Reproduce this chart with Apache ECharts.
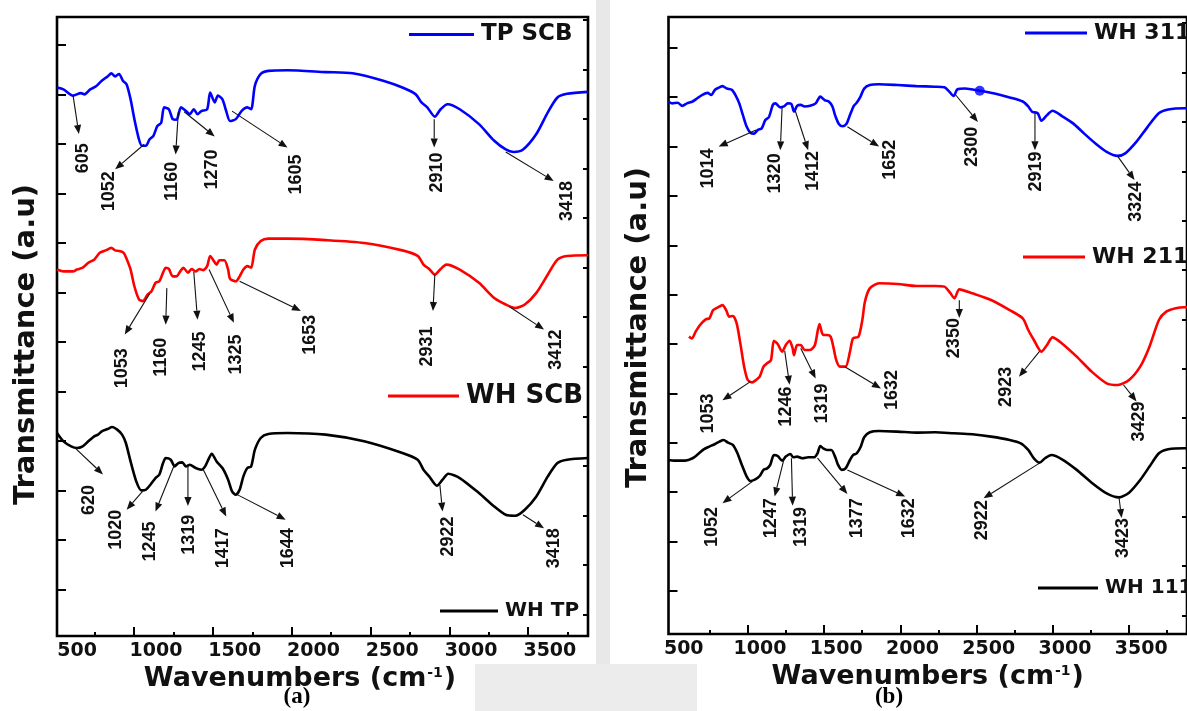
<!DOCTYPE html>
<html>
<head>
<meta charset="utf-8">
<script src="https://cdn.jsdelivr.net/npm/echarts@6/dist/echarts.min.js"></script>
<style>
  html, body { margin: 0; padding: 0; background: #fff; }
  #chart { width: 1187px; height: 711px; }
</style>
</head>
<body>
<div id="chart"></div>
<script>
// FTIR spectra, each point is [wavenumber (cm-1), transmittance (a.u.)]
const tpScb = [[510,88.6],[551,88.3],[612,87.3],[661,87.7],[685,87.5],[721,88.3],[758,88.8],[794,89.7],[831,90.4],[855,90.9],[879,90.4],[904,90.8],[928,89.7],[952,89.1],[977,86.7],[1001,83.5],[1030,80.25],[1049,79.2],[1074,79.2],[1098,80.25],[1122,80.8],[1147,82.4],[1171,82.9],[1190,85.4],[1220,85.1],[1244,83.5],[1268,83.4],[1297,85.4],[1329,84.8],[1353,84.3],[1378,85.1],[1402,84.3],[1426,84.8],[1463,85.1],[1482,87.8],[1511,86.2],[1531,87.3],[1560,86.7],[1584,84.8],[1608,83.2],[1645,83.5],[1681,84.8],[1718,85.4],[1742,85.1],[1766,88.9],[1803,90.8],[1851,91.3],[1973,91.4],[2216,91.1],[2386,90.9],[2580,89.7],[2702,88.6],[2787,87.5],[2823,86.2],[2860,85.4],[2908,83.9],[2945,85.1],[2989,85.9],[3066,85.1],[3188,82.7],[3285,80.0],[3358,78.6],[3407,78.2],[3468,78.6],[3552,81.1],[3625,84.6],[3686,87.0],[3747,87.6],[3880,87.9]];

const whScb = [[510,59.2],[551,58.9],[612,58.9],[636,59.2],[673,59.5],[709,60.3],[746,60.8],[782,61.9],[819,62.3],[855,62.7],[879,62.3],[904,62.2],[933,61.9],[952,60.9],[977,59.2],[1001,56.5],[1030,54.4],[1054,54.1],[1086,55.2],[1110,55.7],[1135,57.05],[1159,57.3],[1183,58.7],[1200,59.5],[1220,59.3],[1244,58.1],[1268,58.1],[1292,58.9],[1312,59.5],[1341,58.7],[1365,59.3],[1390,58.9],[1414,59.3],[1438,59.1],[1463,59.75],[1482,61.4],[1506,60.56],[1523,60.0],[1540,60.7],[1572,60.7],[1596,59.2],[1608,57.7],[1645,57.3],[1669,58.1],[1693,59.2],[1718,59.75],[1742,59.5],[1766,62.45],[1803,63.8],[1851,64.2],[1973,64.2],[2216,63.96],[2459,63.5],[2702,62.3],[2799,61.4],[2836,60.0],[2872,59.3],[2908,58.4],[2945,59.3],[2981,60.0],[3066,59.2],[3188,57.05],[3285,54.6],[3358,53.55],[3419,53.0],[3479,53.55],[3552,55.43],[3625,58.4],[3686,60.8],[3747,61.4],[3880,61.5]];

const whTp = [[510,32.8],[551,31.45],[600,30.64],[636,30.37],[673,30.64],[709,31.45],[746,32.26],[770,32.53],[794,33.07],[831,33.44],[860,33.77],[892,33.34],[923,32.53],[947,31.18],[977,28.2],[1013,24.98],[1045,23.52],[1074,23.63],[1103,24.44],[1135,25.52],[1159,26.05],[1183,27.94],[1200,28.75],[1232,28.48],[1256,27.4],[1280,27.94],[1305,28.05],[1329,27.4],[1353,27.67],[1390,27.13],[1426,26.86],[1450,27.4],[1475,28.75],[1492,29.45],[1523,28.2],[1560,27.13],[1596,25.25],[1621,23.36],[1645,22.82],[1669,23.63],[1693,25.78],[1718,27.13],[1742,27.4],[1766,30.1],[1803,31.99],[1851,32.63],[1973,32.8],[2216,32.53],[2459,31.45],[2702,29.56],[2799,28.48],[2836,26.86],[2872,25.78],[2921,24.27],[2957,25.25],[2993,26.22],[3066,25.52],[3188,23.09],[3285,20.93],[3358,19.58],[3419,19.42],[3479,20.39],[3552,22.55],[3625,25.78],[3686,27.94],[3747,28.48],[3880,28.75]];

const wh311 = [[480,86.3],[503,86.0],[540,86.1],[570,85.6],[601,86.0],[638,86.3],[667,86.8],[699,87.35],[736,87.7],[760,87.35],[785,88.2],[814,88.6],[834,88.8],[863,88.4],[895,88.2],[919,87.35],[944,86.0],[968,84.1],[993,82.2],[1017,81.25],[1042,81.1],[1066,81.7],[1091,81.95],[1115,83.3],[1139,83.8],[1164,85.75],[1181,86.0],[1213,85.35],[1237,85.5],[1262,86.0],[1286,85.9],[1303,84.65],[1323,85.6],[1347,85.75],[1372,85.5],[1408,85.6],[1445,86.0],[1475,87.1],[1506,86.5],[1531,86.3],[1555,85.5],[1572,84.1],[1597,82.65],[1621,82.3],[1646,82.65],[1670,84.1],[1695,85.6],[1714,86.1],[1739,87.1],[1763,88.4],[1800,88.97],[1861,89.1],[1983,88.97],[2106,88.8],[2228,88.7],[2289,88.6],[2321,87.9],[2350,87.2],[2375,88.3],[2424,88.4],[2521,88.05],[2619,87.6],[2717,86.97],[2803,86.3],[2839,85.5],[2864,84.65],[2901,84.4],[2925,83.2],[2962,84.1],[2998,84.8],[3060,83.95],[3133,82.76],[3206,81.1],[3280,79.5],[3353,78.15],[3426,77.5],[3475,77.9],[3549,79.8],[3622,82.2],[3695,84.4],[3757,85.0],[3862,85.2],[3880,85.2]];
const wh311Spot = [[2521, 88.05]];

const wh211 = [[614,48.2],[633,47.9],[658,49.0],[687,50.08],[724,51.0],[748,51.16],[773,52.5],[804,52.95],[834,53.3],[858,52.5],[878,51.43],[902,51.54],[927,50.35],[951,47.1],[976,43.33],[1000,41.17],[1029,40.79],[1054,41.17],[1078,41.7],[1103,43.33],[1127,43.87],[1152,44.4],[1171,47.54],[1196,47.0],[1225,45.76],[1249,46.84],[1274,47.54],[1294,46.3],[1303,45.2],[1323,46.84],[1347,46.84],[1372,46.03],[1408,46.03],[1440,46.84],[1470,50.24],[1494,48.46],[1519,48.46],[1543,48.2],[1563,46.3],[1580,44.4],[1604,43.33],[1641,43.33],[1670,45.76],[1690,47.9],[1726,48.2],[1751,50.89],[1768,53.86],[1800,56.02],[1861,56.84],[1983,56.73],[2106,56.4],[2228,56.4],[2289,56.3],[2326,55.32],[2355,54.4],[2387,55.86],[2472,55.21],[2595,54.13],[2717,52.5],[2803,51.16],[2839,49.27],[2876,47.65],[2925,45.76],[2962,46.84],[2998,48.08],[3060,47.1],[3157,44.95],[3255,42.52],[3353,40.63],[3426,40.36],[3500,41.17],[3573,43.33],[3634,46.57],[3696,50.89],[3744,52.24],[3806,52.78],[3862,52.95],[3880,52.95]];

const wh111 = [[480,28.2],[516,28.1],[589,28.1],[638,28.48],[675,29.18],[711,29.93],[748,30.37],[785,30.8],[814,31.18],[841,31.45],[870,31.01],[902,30.64],[932,29.29],[961,27.4],[993,25.5],[1017,24.8],[1049,25.07],[1078,25.61],[1103,26.6],[1127,26.85],[1147,27.4],[1171,29.0],[1196,28.85],[1225,28.1],[1249,28.75],[1279,29.18],[1298,28.64],[1323,28.75],[1360,28.48],[1396,28.64],[1433,28.64],[1457,29.29],[1475,30.47],[1494,30.1],[1519,29.83],[1548,29.83],[1572,28.75],[1592,27.4],[1616,26.6],[1641,26.85],[1670,28.2],[1690,29.0],[1714,29.29],[1739,30.26],[1763,31.88],[1800,32.69],[1861,32.9],[1983,32.8],[2106,32.64],[2228,32.69],[2350,32.53],[2472,32.37],[2595,31.99],[2717,31.45],[2790,30.91],[2839,29.83],[2876,28.48],[2913,27.77],[2949,28.48],[2991,29.0],[3060,28.31],[3157,26.6],[3255,24.53],[3353,22.8],[3434,22.15],[3500,22.91],[3573,24.96],[3634,27.13],[3696,29.29],[3757,29.93],[3862,30.1],[3880,30.1]];

// Peak call-outs: [label, arrow tail, arrow head, top of rotated label], in [cm-1, a.u.]
const peaksTpScb = [
  ['605',  [612, 87.3],  [649, 81.1],  [673, 79.6]],
  ['1052', [1062, 79.4], [879, 75.4],  [843, 75.1]],
  ['1160', [1280, 84.6], [1263, 77.8], [1237, 76.6]],
  ['1270', [1317, 84.7], [1511, 80.7], [1494, 78.6]],
  ['1605', [1621, 84.8], [1973, 78.9], [2026, 77.8]],
  ['2910', [2904, 83.5], [2904, 78.9], [2921, 78.1]],
  ['3418', [3358, 78.2], [3662, 73.5], [3747, 73.5]]
];
const peaksWhScb = [
  ['1053', [1098, 55.3], [940, 48.7],  [923, 46.5]],
  ['1160', [1207, 56.2], [1200, 50.3], [1171, 48.2]],
  ['1245', [1378, 58.8], [1402, 51.1], [1419, 49.2]],
  ['1325', [1475, 59.2], [1633, 50.6], [1645, 48.7]],
  ['1653', [1669, 57.3], [2058, 52.5], [2114, 51.9]],
  ['2931', [2908, 58.4], [2896, 52.5], [2860, 50.0]],
  ['3412', [3382, 53.2], [3601, 49.5], [3679, 49.5]]
];
const peaksWhTp = [
  ['620',  [624, 30.4],  [802, 26.1],  [714, 24.4]],
  ['1020', [1054, 23.4], [952, 20.4],  [884, 20.4]],
  ['1245', [1256, 27.7], [1135, 20.1], [1103, 18.5]],
  ['1319', [1341, 27.7], [1341, 21.0], [1346, 19.6]],
  ['1417', [1438, 26.9], [1584, 19.3], [1565, 17.4]],
  ['1644', [1657, 22.8], [1961, 18.8], [1978, 17.4]],
  ['2922', [2940, 24.4], [2957, 20.1], [2989, 19.3]],
  ['3418', [3467, 19.6], [3601, 17.4], [3662, 17.4]]
];
const peaksWh311 = [
  ['1014', [1054, 81.7], [809, 79.0],  [736, 78.7]],
  ['1320', [1225, 85.4], [1213, 78.4], [1176, 77.9]],
  ['1412', [1311, 84.8], [1396, 78.4], [1426, 78.3]],
  ['1652', [1653, 82.2], [1861, 79.0], [1934, 80.1]],
  ['2300', [2362, 87.4], [2509, 83.0], [2472, 82.2]],
  ['2919', [2883, 84.4], [2883, 78.4], [2888, 78.2]],
  ['3324', [3426, 77.4], [3536, 73.6], [3549, 73.3]]
];
const peaksWh211 = [
  ['1053', [1017, 40.9], [834, 37.9],  [736, 39.0]],
  ['1246', [1242, 45.9], [1274, 40.4], [1249, 40.1]],
  ['1319', [1347, 46.3], [1445, 41.4], [1489, 40.6]],
  ['1632', [1636, 43.3], [1873, 39.8], [1947, 42.8]],
  ['2350', [2387, 54.1], [2387, 51.2], [2350, 51.2]],
  ['2923', [2913, 45.8], [2778, 41.7], [2693, 43.3]],
  ['3429', [3463, 40.4], [3549, 37.7], [3568, 37.7]]
];
const peaksWh111 = [
  ['1052', [1029, 24.7], [834, 21.2],  [765, 20.6]],
  ['1247', [1237, 28.3], [1176, 22.3], [1152, 22.0]],
  ['1319', [1286, 28.5], [1294, 20.8], [1347, 20.6]],
  ['1377', [1457, 28.5], [1653, 22.7], [1714, 22.0]],
  ['1632', [1653, 26.6], [2032, 22.3], [2057, 22.0]],
  ['2922', [2913, 27.7], [2546, 22.0], [2534, 21.7]],
  ['3423', [3434, 22.2], [3451, 18.8], [3463, 18.8]]
];

// Axis ticks and tick labels
const xTickLabels = [500, 1000, 1500, 2000, 2500, 3000, 3500];
const xMajorTicks = [1000, 1500, 2000, 2500, 3000, 3500];
const xMinorTicks = [750, 1250, 1750, 2250, 2750, 3250, 3750];

function steps(from, step, to) {
  const out = [];
  for (let v = from; v <= to + 1e-9; v += step) out.push(+v.toFixed(2));
  return out;
}

const BOLD_SANS = '"DejaVu Sans", "Liberation Sans", sans-serif';
const BLACK = '#000';

const panels = [
  { left: 57,    top: 17, width: 531,   height: 619, range: [510, 3880], labelShift: 138,
    titlePad: [0, 45, 0, 0], yTitlePad: [0, 36, 0, 0],
    yLong: steps(7.5, 8, 100), yShort: steps(3.5, 8, 100) },
  { left: 668.5, top: 17, width: 520.5, height: 617, range: [480, 3880], labelShift: 80,
    titlePad: [0, 0, 0, 0], yTitlePad: [0, 4, 0, 0],
    yLong: steps(7, 8, 100),   yShort: steps(3, 8, 100) }
];

const grid = [], xAxis = [], yAxis = [];
panels.forEach((p, g) => {
  grid.push({ left: p.left, top: p.top, width: p.width, height: p.height, show: true,
              backgroundColor: '#fff', borderColor: BLACK, borderWidth: 2.6 });
  const base = { gridIndex: g, type: 'value', position: 'bottom', min: p.range[0], max: p.range[1],
                 axisLine: { show: false }, splitLine: { show: false }, axisLabel: { show: false } };
  xAxis.push(
    Object.assign({}, base, { axisTick: { show: true, inside: true, length: 9, customValues: xMajorTicks, lineStyle: { color: BLACK, width: 2 } } }),
    Object.assign({}, base, { axisTick: { show: true, inside: true, length: 4, customValues: xMinorTicks, lineStyle: { color: BLACK, width: 2 } } }),
    Object.assign({}, base, {
      min: p.range[0] - p.labelShift, max: p.range[1] - p.labelShift,
      axisTick: { show: false },
      axisLabel: { show: true, customValues: xTickLabels, margin: 6, color: '#111',
                   formatter: v => String(v),
                   fontFamily: BOLD_SANS, fontWeight: 'bold', fontSize: 19 },
      name: '{t|Wavenumbers (cm}{s|-1}{t|)}',
      nameLocation: 'middle', nameGap: 25,
      nameTextStyle: {
        padding: p.titlePad,
        rich: {
          t: { fontFamily: BOLD_SANS, fontWeight: 'bold', fontSize: 27, color: '#111' },
          s: { fontFamily: BOLD_SANS, fontWeight: 'bold', fontSize: 14, color: '#111', verticalAlign: 'top', padding: [0, 1, 12, 1] }
        }
      }
    })
  );
  const ybase = { gridIndex: g, type: 'value', min: 0, max: 100, axisLine: { show: false },
                  splitLine: { show: false }, axisLabel: { show: false } };
  yAxis.push(
    Object.assign({}, ybase, {
      axisTick: { show: true, inside: true, length: 9, customValues: p.yLong, lineStyle: { color: BLACK, width: 2 } },
      name: 'Transmittance (a.u)', nameLocation: 'middle', nameGap: 16, nameRotate: 90,
      nameTextStyle: { fontFamily: BOLD_SANS, fontWeight: 'bold', fontSize: 29, color: '#111', padding: p.yTitlePad }
    }),
    Object.assign({}, ybase, {
      axisTick: { show: true, inside: true, length: 5, customValues: p.yShort, lineStyle: { color: BLACK, width: 2 } }
    })
  );
});

function spectrum(name, data, color, g) {
  return {
    name, type: 'line', data, xAxisIndex: g * 3, yAxisIndex: g * 2,
    showSymbol: false, smooth: 0.25, lineStyle: { color, width: 2.6 }, itemStyle: { color },
    emphasis: { disabled: true }, z: 3
  };
}

function callouts(peaks, g) {
  return {
    type: 'custom', xAxisIndex: g * 3, yAxisIndex: g * 2, clip: false, silent: true, z: 4,
    data: peaks.map(p => p[1]),
    renderItem(params, api) {
      const pk = peaks[params.dataIndex];
      const a = api.coord(pk[1]), b = api.coord(pk[2]), t = api.coord(pk[3]);
      const ang = Math.atan2(b[1] - a[1], b[0] - a[0]);
      const L = 9, W = 3.6;
      const back = [b[0] - L * Math.cos(ang), b[1] - L * Math.sin(ang)];
      const s1 = [back[0] + W * Math.sin(ang), back[1] - W * Math.cos(ang)];
      const s2 = [back[0] - W * Math.sin(ang), back[1] + W * Math.cos(ang)];
      return {
        type: 'group',
        children: [
          { type: 'line', shape: { x1: a[0], y1: a[1], x2: back[0], y2: back[1] }, style: { stroke: '#111', lineWidth: 1.1 } },
          { type: 'polygon', shape: { points: [b, s1, s2] }, style: { fill: '#111' } },
          { type: 'text', x: t[0], y: t[1], rotation: Math.PI / 2,
            style: { text: pk[0], fill: '#111', fontFamily: '"Liberation Sans", Arial, sans-serif',
                     fontWeight: 'bold', fontSize: 18, align: 'right', verticalAlign: 'middle' } }
        ]
      };
    }
  };
}

function legendBox(name, left, top, width, size) {
  return {
    data: [name], left, top, padding: 0, icon: 'rect', itemWidth: width, itemHeight: 3, itemGap: 0,
    selectedMode: false,
    textStyle: { fontFamily: BOLD_SANS, fontWeight: 'bold', fontSize: size, color: '#111', padding: [0, 0, 0, 2] }
  };
}

const option = {
  animation: false,
  backgroundColor: '#fff',
  grid, xAxis, yAxis,
  legend: [
    legendBox('TP SCB', 409, 23, 65, 23),
    legendBox('WH SCB', 388, 383, 71, 26),
    legendBox('WH TP',  440, 601, 58, 20),
    legendBox('WH 311', 1025, 22, 62, 22),
    legendBox('WH 211', 1023, 246, 62, 22),
    legendBox('WH 111', 1038, 578, 60, 20)
  ],
  graphic: [
    { type: 'rect', z: -10, shape: { x: 596, y: 0, width: 14, height: 711 }, style: { fill: '#e8e8e8' } },
    { type: 'rect', z: -10, shape: { x: 475, y: 664, width: 222, height: 47 }, style: { fill: '#ececec' } },
    { type: 'text', x: 297, y: 697, style: { text: '(a)', align: 'center', verticalAlign: 'middle',
      fontFamily: '"Liberation Serif", serif', fontWeight: 'bold', fontSize: 23, fill: '#000' } },
    { type: 'text', x: 889, y: 697, style: { text: '(b)', align: 'center', verticalAlign: 'middle',
      fontFamily: '"Liberation Serif", serif', fontWeight: 'bold', fontSize: 23, fill: '#000' } }
  ],
  series: [
    spectrum('TP SCB', tpScb, '#0000ff', 0),
    spectrum('WH SCB', whScb, '#ff0000', 0),
    spectrum('WH TP', whTp, '#000000', 0),
    spectrum('WH 311', wh311, '#0000ff', 1),
    spectrum('WH 211', wh211, '#ff0000', 1),
    spectrum('WH 111', wh111, '#000000', 1),
    { type: 'scatter', xAxisIndex: 3, yAxisIndex: 2, data: wh311Spot, symbolSize: 10,
      itemStyle: { color: '#0000ff' }, silent: true, z: 4 },
    callouts(peaksTpScb, 0), callouts(peaksWhScb, 0), callouts(peaksWhTp, 0),
    callouts(peaksWh311, 1), callouts(peaksWh211, 1), callouts(peaksWh111, 1)
  ]
};

const chart = echarts.init(document.getElementById('chart'), null, { renderer: 'canvas' });
chart.setOption(option);
</script>
</body>
</html>
